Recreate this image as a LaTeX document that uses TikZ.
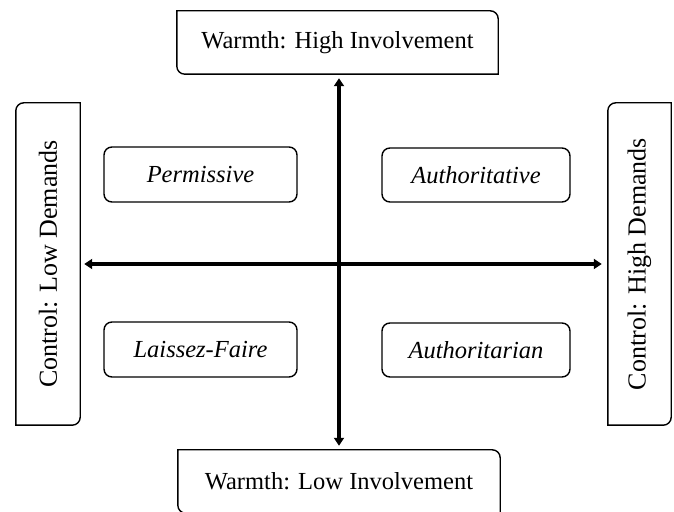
\documentclass[tikz,border=0pt]{standalone}
\usepackage{fontspec}
\usepackage{graphicx}
\setmainfont{Liberation Serif}
\usetikzlibrary{arrows.meta}
\tikzset{
  bigbox/.style={draw=none, inner sep=0pt, font=\fontsize{24.5}{28}\selectfont},
  sidebox/.style={draw=none, inner sep=0pt, font=\fontsize{26}{28}\selectfont},
  stylebox/.style={draw, line width=1.4pt, rounded corners=8pt, inner sep=0pt,
     font=\fontsize{24.5}{28}\selectfont\itshape},
  boxline/.style={line width=1.4pt},
  axisarrow/.style={line width=3.2pt, -{Triangle[length=8pt,width=10pt]}, shorten >=4pt}
}
\newcommand\qdiagTR[1]{%
  \draw[boxline] (#1.north west) -- ([xshift=-8pt]#1.north east)
    arc[start angle=90,end angle=0,radius=8pt] -- (#1.south east)
    -- ([xshift=8pt]#1.south west)
    arc[start angle=270,end angle=180,radius=8pt] -- cycle;}
\newcommand\qdiagTL[1]{%
  \draw[boxline] (#1.south west) -- ([yshift=-8pt]#1.north west)
    arc[start angle=180,end angle=90,radius=8pt] -- (#1.north east)
    -- ([yshift=8pt]#1.south east)
    arc[start angle=0,end angle=-90,radius=8pt] -- cycle;}
\begin{document}
\begin{tikzpicture}[x=1pt,y=1pt]
\useasboundingbox (0,0) rectangle (674,511);
% outer boxes
\node[bigbox, minimum width=321pt, minimum height=63pt] (T) at (337.5,468.5) {Warmth: High Involvement};
\node[bigbox, minimum width=322pt, minimum height=63pt] (B) at (339,29.5) {Warmth: Low Involvement};
\node[sidebox, minimum width=64pt, minimum height=322pt] (L) at (48,247) {\rotatebox{90}{Control: Low Demands}};
\node[sidebox, minimum width=63pt, minimum height=322pt] (R) at (639.5,247) {\rotatebox{90}{Control: High Demands}};
\qdiagTR{T}
\qdiagTR{B}
\qdiagTL{L}
\qdiagTL{R}
% parenting styles
\node[stylebox, minimum width=193pt, minimum height=55pt] (P) at (200.5,336.5) {Permissive};
\node[stylebox, minimum width=188pt, minimum height=54pt] (AV) at (476,336) {Authoritative};
\node[stylebox, minimum width=193pt, minimum height=55pt] (LF) at (200.5,161.5) {Laissez-Faire};
\node[stylebox, minimum width=188pt, minimum height=54pt] (AN) at (476,161) {Authoritarian};
% axes
\coordinate (O) at (339,247);
\draw[axisarrow] (O) -- (O |- T.south);
\draw[axisarrow] (O) -- (O |- B.north);
\draw[axisarrow] (O) -- (O -| L.east);
\draw[axisarrow, shorten >=6pt] (O) -- (O -| R.west);
\end{tikzpicture}
\end{document}
